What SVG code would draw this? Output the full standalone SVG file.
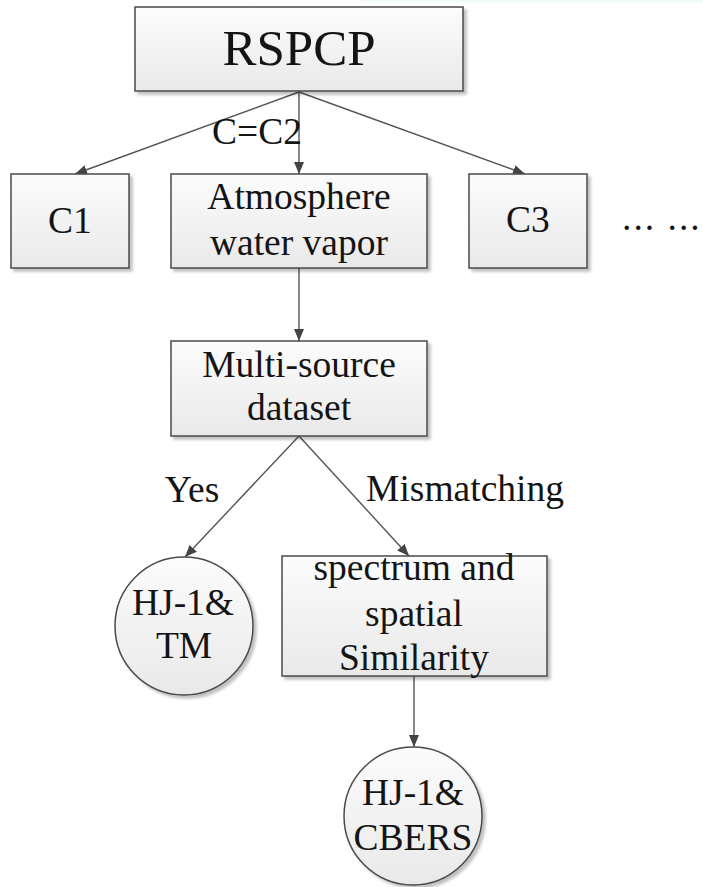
<svg xmlns="http://www.w3.org/2000/svg" width="703" height="887" viewBox="0 0 703 887">
  <style>
    .box { fill: url(#shade); stroke: #4a4a4a; stroke-width: 1.5; filter: url(#drop); }
    .t { font-family: "Liberation Serif", "Times New Roman", serif; font-size: 37.5px; fill: #141414; text-anchor: middle; }
    .big { font-size: 51px; }
    .left { text-anchor: start; }
    .edge { stroke: #555; stroke-width: 1.4; fill: none; marker-end: url(#head); }
  </style>
  <defs>
    <linearGradient id="shade" x1="0" y1="0" x2="0" y2="1">
      <stop offset="0" stop-color="#fcfcfc"/>
      <stop offset="1" stop-color="#e9e9e9"/>
    </linearGradient>
    <linearGradient id="topband" x1="0" y1="0" x2="0" y2="1">
      <stop offset="0" stop-color="#edf5fa"/>
      <stop offset="1" stop-color="#ffffff" stop-opacity="0"/>
    </linearGradient>
    <filter id="drop" x="-10%" y="-10%" width="125%" height="125%">
      <feGaussianBlur in="SourceAlpha" stdDeviation="1.5"/>
      <feOffset dx="3" dy="3" result="off"/>
      <feComponentTransfer><feFuncA type="linear" slope="0.25"/></feComponentTransfer>
      <feMerge><feMergeNode/><feMergeNode in="SourceGraphic"/></feMerge>
    </filter>
    <marker id="head" viewBox="0 0 12 10" refX="12" refY="5" markerWidth="12" markerHeight="10" markerUnits="userSpaceOnUse" orient="auto">
      <path d="M0,0 L12,5 L0,10 Z" fill="#444"/>
    </marker>
  </defs>

  <rect width="703" height="887" fill="#ffffff"/>
  <rect x="360" y="0" width="343" height="6" fill="url(#topband)"/>

  <!-- connectors -->
  <g id="connectors">
    <line class="edge" x1="299" y1="92" x2="75" y2="174"/>
    <line class="edge" x1="299" y1="92" x2="299" y2="174"/>
    <line class="edge" x1="299" y1="92" x2="525" y2="174"/>
    <line class="edge" x1="299" y1="268" x2="299" y2="341"/>
    <line class="edge" x1="299" y1="436" x2="185" y2="557"/>
    <line class="edge" x1="299" y1="436" x2="409" y2="556"/>
    <line class="edge" x1="414" y1="676" x2="414" y2="747"/>
    <text class="t" x="257" y="144">C=C2</text>
    <text class="t" x="192" y="502">Yes</text>
    <text class="t" x="465" y="501">Mismatching</text>
  </g>

  <g id="rspcp">
    <rect class="box" x="135" y="7" width="328" height="84"/>
    <text class="t big" x="299" y="65">RSPCP</text>
  </g>

  <g id="c1">
    <rect class="box" x="11" y="174" width="118" height="94"/>
    <text class="t" x="70" y="233">C1</text>
  </g>

  <g id="water-vapor">
    <rect class="box" x="171" y="174" width="256" height="94"/>
    <text class="t" x="299" y="209">Atmosphere</text>
    <text class="t" x="299" y="255">water vapor</text>
  </g>

  <g id="c3">
    <rect class="box" x="469" y="174" width="118" height="94"/>
    <text class="t" x="528" y="232">C3</text>
  </g>

  <g id="more">
    <text class="t left" x="622" y="230" letter-spacing="2">... ...</text>
  </g>

  <g id="multi-source">
    <rect class="box" x="171" y="341" width="256" height="95"/>
    <text class="t" x="299" y="377">Multi-source</text>
    <text class="t" x="299" y="420">dataset</text>
  </g>

  <g id="hj1-tm">
    <circle class="box" cx="184" cy="626" r="69"/>
    <text class="t" x="183" y="615">HJ-1&amp;</text>
    <text class="t" x="184" y="658">TM</text>
  </g>

  <g id="similarity">
    <rect class="box" x="282" y="556" width="265" height="120"/>
    <text class="t" x="414" y="580">spectrum and</text>
    <text class="t" x="414" y="626">spatial</text>
    <text class="t" x="414" y="670">Similarity</text>
  </g>

  <g id="hj1-cbers">
    <circle class="box" cx="413" cy="816" r="69"/>
    <text class="t" x="413" y="805">HJ-1&amp;</text>
    <text class="t" x="413" y="850">CBERS</text>
  </g>
</svg>
